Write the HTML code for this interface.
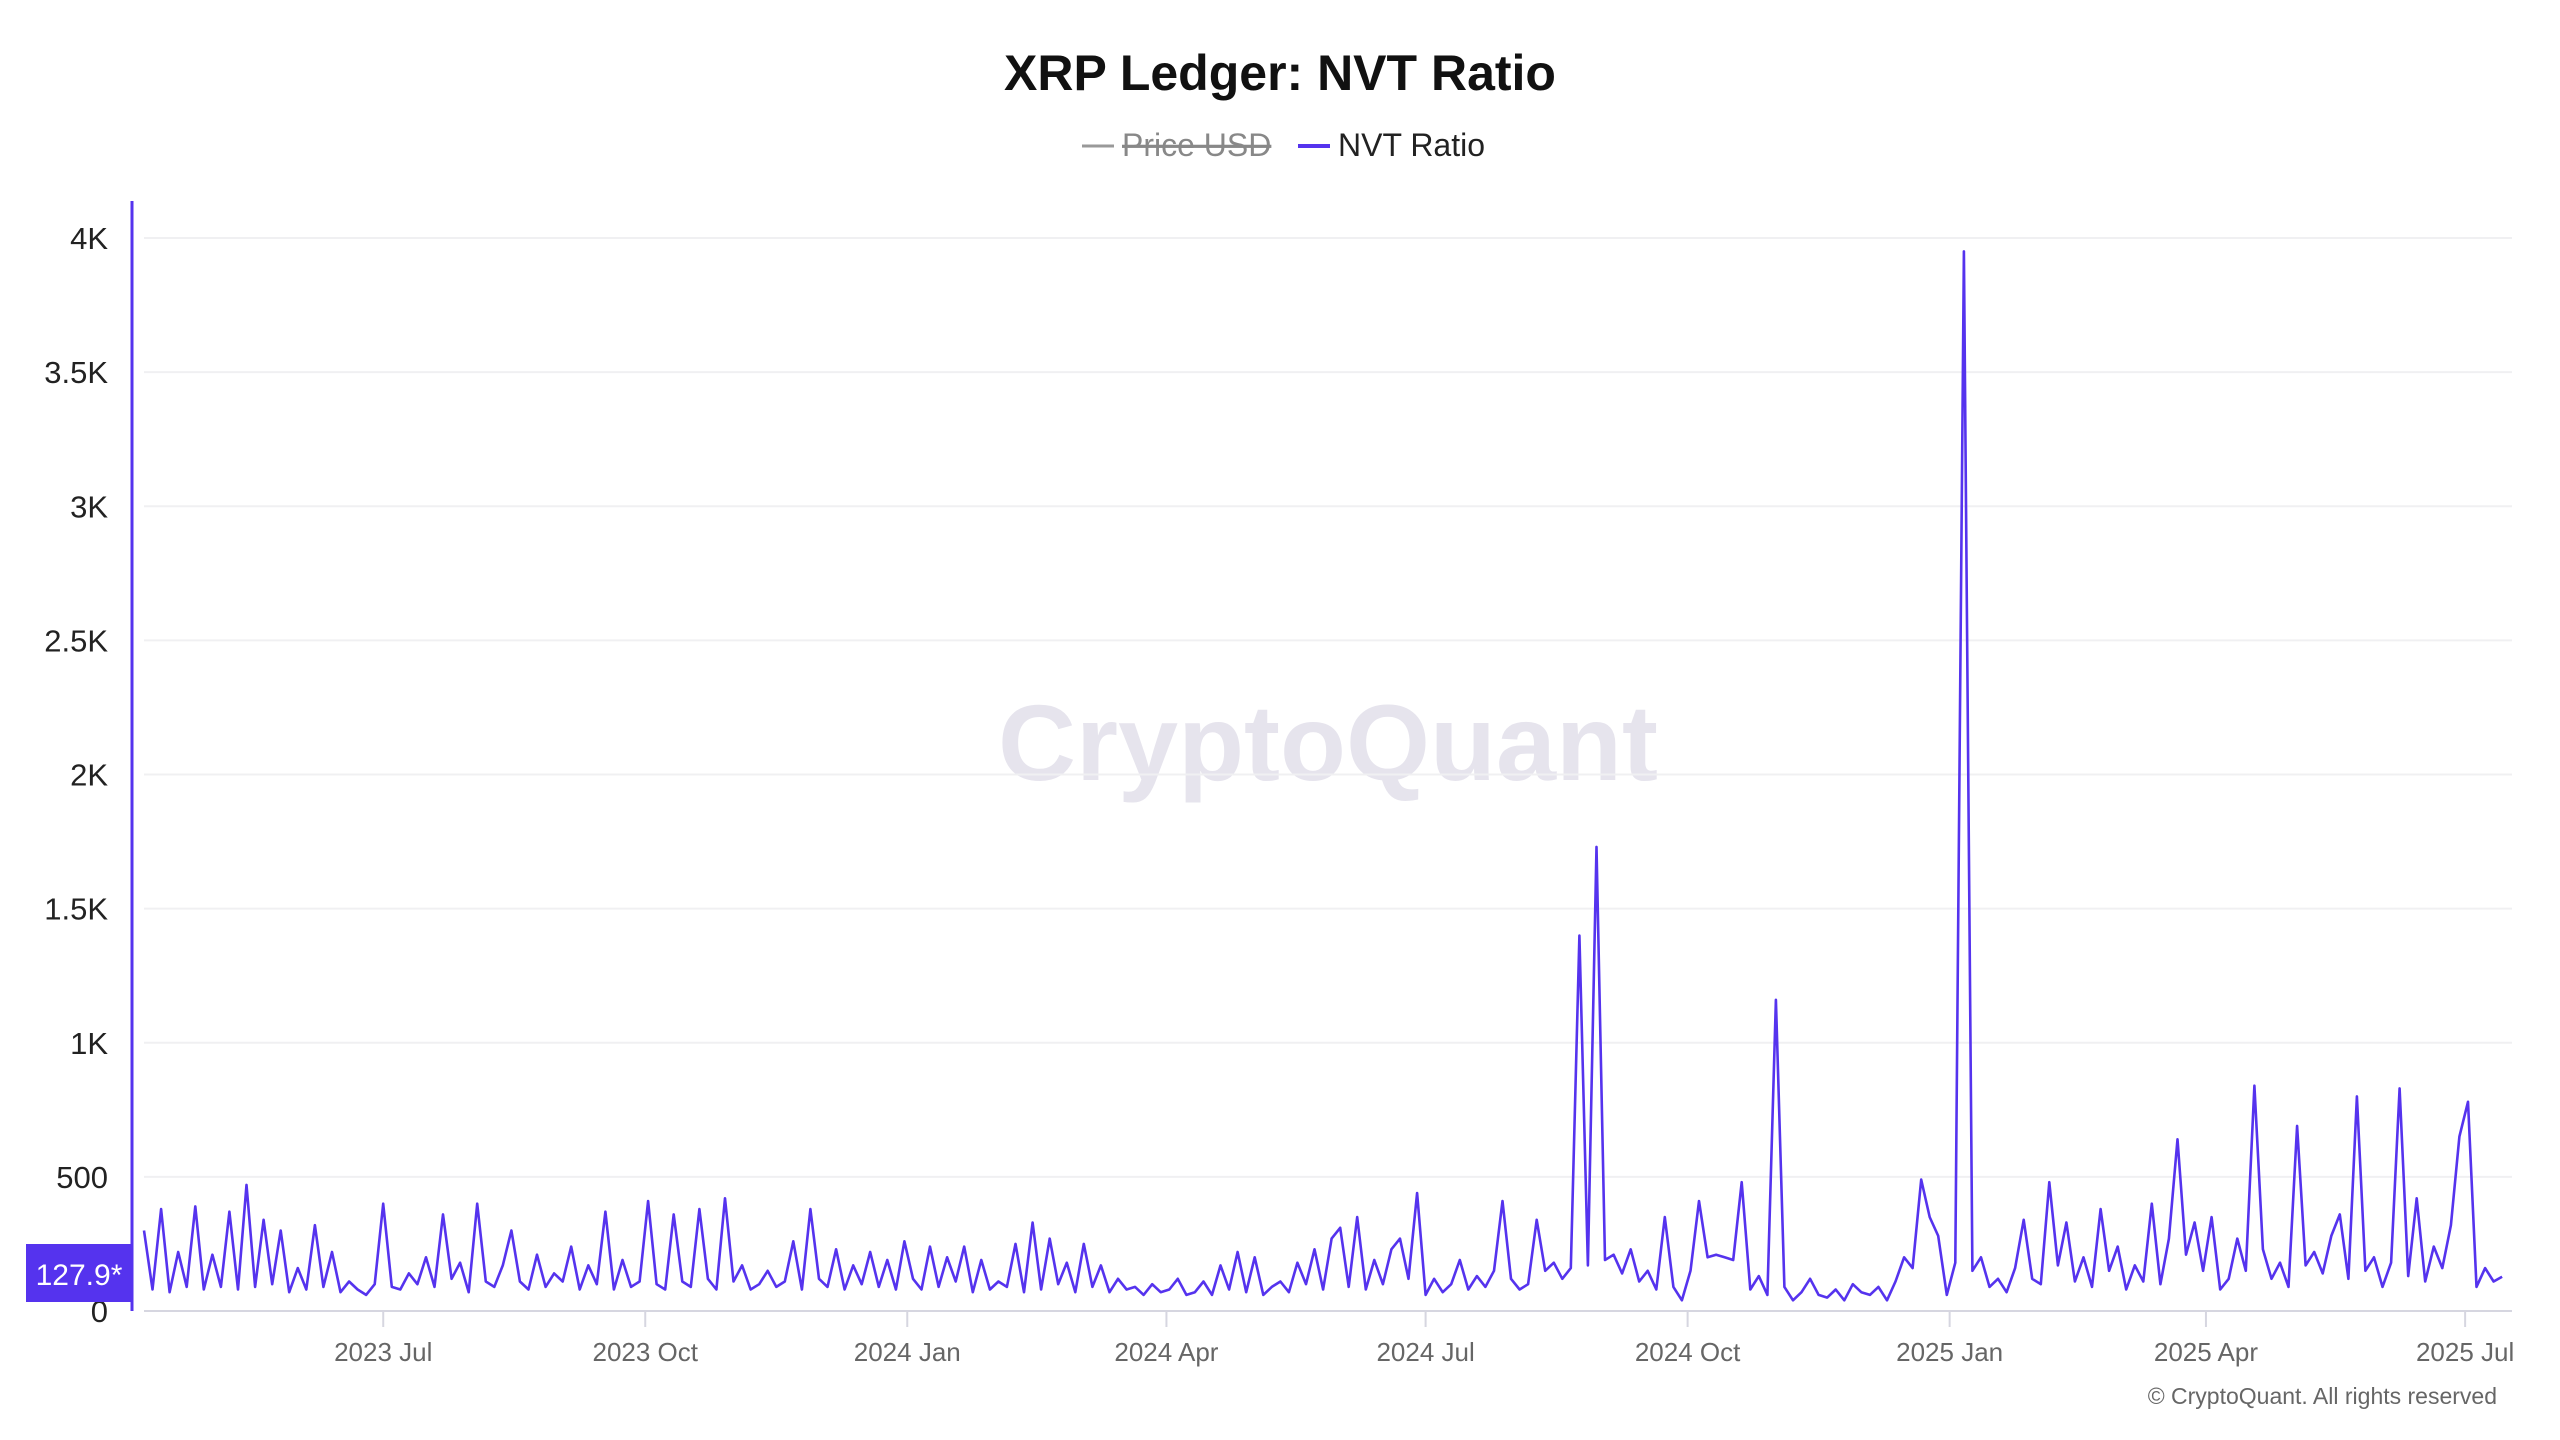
<!DOCTYPE html>
<html><head><meta charset="utf-8"><style>
html,body{margin:0;padding:0;background:#fff;}
svg{display:block;font-family:"Liberation Sans",sans-serif;}
</style></head><body>
<svg id="chart" width="2560" height="1440" viewBox="0 0 2560 1440">
<text x="1280" y="90" text-anchor="middle" font-size="50" font-weight="bold" fill="#111">XRP Ledger: NVT Ratio</text>
<g>
 <g>
  <line x1="1082" y1="146" x2="1114" y2="146" stroke="#999" stroke-width="3"/>
  <text x="1122" y="156" font-size="32" fill="#888" text-decoration="line-through">Price USD</text>
 </g>
 <g>
  <line x1="1298" y1="146" x2="1330" y2="146" stroke="#5533ee" stroke-width="4"/>
  <text x="1338" y="156" font-size="32" fill="#222">NVT Ratio</text>
 </g>
</g>
<text x="1328" y="780" text-anchor="middle" font-size="108" font-weight="bold" fill="#e6e4ed">CryptoQuant</text>
<g id="grid"></g>
<g id="yticks"></g>
<g id="xticks"></g>
<path id="series" fill="none" stroke="#5533ee" stroke-width="2.6" stroke-linejoin="round"/>
<line x1="132" y1="201" x2="132" y2="1311" stroke="#5533ee" stroke-width="3"/>
<g>
 <rect x="26" y="1244" width="106" height="58" fill="#5533ee"/>
 <text x="79" y="1285" text-anchor="middle" font-size="30" fill="#fff">127.9*</text>
</g>
<text x="2497" y="1404" text-anchor="end" font-size="23" fill="#666">© CryptoQuant. All rights reserved</text>
</svg>
<script>
const yTicks=[0,500,1000,1500,2000,2500,3000,3500,4000];
const yTickLabels=["0","500","1K","1.5K","2K","2.5K","3K","3.5K","4K"];
const xTickLabels=["2023 Jul","2023 Oct","2024 Jan","2024 Apr","2024 Jul","2024 Oct","2025 Jan","2025 Apr","2025 Jul"];
const xTickDays=[84,176,268,359,450,542,634,724,815];
const stepDays=3;
const q1=[300,80,380,70,220,90,390,80,210,90,370,80,470,90,340,100,300,70,160,80,320,90,220,70,110,80,60,100];
const q2=[400,90,80,140,100,200,90,360,120,180,70,400,110,90,170,300,110,80,210,90,140,110,240,80,170,100,370,80,190,90,110];
const q3=[410,100,80,360,110,90,380,120,80,420,110,170,80,100,150,90,110,260,80,380,120,90,230,80,170,100,220,90,190,80];
const q4=[260,120,80,240,90,200,110,240,70,190,80,110,90,250,70,330,80,270,100,180,70,250,90,170,70,120,80,90,60,100,70];
const q5=[80,120,60,70,110,60,170,80,220,70,200,60,90,110,70,180,100,230,80,270,310,90,350,80,190,100,230,270,120,440];
const q6=[60,120,70,100,190,80,130,90,150,410,120,80,100,340,150,180,120,160,1400,170,1730,190,210,140,230,110,150,80,350,90,40];
const q7=[150,410,200,210,200,190,480,80,130,60,1160,90,40,70,120,60,50,80,40,100,70,60,90,40,110,200,160,490,350,280];
const q8=[60,180,3950,150,200,90,120,70,160,340,120,100,480,170,330,110,200,90,380,150,240,80,170,110,400,100,270,640,210,330];
const q9=[150,350,80,120,270,150,840,230,120,180,90,690,170,220,140,280,360,120,800,150,200,90,180,830,130,420,110,240,160,320,650];
const tail=[780,90,160,110,128];
const values=[].concat(q1,q2,q3,q4,q5,q6,q7,q8,q9,tail);

const X0=144,PXDAY=2.848,Y0=1311,PXVAL=1073/4000,XEND=2512;
const xs=d=>X0+d*PXDAY, ys=v=>Y0-v*PXVAL;
const NS="http://www.w3.org/2000/svg";
const grid=document.getElementById('grid'),yt=document.getElementById('yticks'),xt=document.getElementById('xticks');
yTicks.forEach((v,i)=>{
 if(v>0){const l=document.createElementNS(NS,'line');
 l.setAttribute('x1',X0);l.setAttribute('x2',XEND);l.setAttribute('y1',ys(v));l.setAttribute('y2',ys(v));
 l.setAttribute('stroke','#f0f0f2');l.setAttribute('stroke-width','2');
 
 
 grid.appendChild(l);}
 const t=document.createElementNS(NS,'text');
 t.setAttribute('x',108);t.setAttribute('y',ys(v)+11);t.setAttribute('text-anchor','end');
 t.setAttribute('font-size','31');t.setAttribute('fill','#222');t.textContent=yTickLabels[i];
 
 
 yt.appendChild(t);
});
const ax=document.createElementNS(NS,'line');
ax.setAttribute('x1',X0);ax.setAttribute('x2',XEND);ax.setAttribute('y1',Y0);ax.setAttribute('y2',Y0);
ax.setAttribute('stroke','#d6d6e0');ax.setAttribute('stroke-width','2');


xt.appendChild(ax);
xTickDays.forEach((d,i)=>{
 const l=document.createElementNS(NS,'line');
 l.setAttribute('x1',xs(d));l.setAttribute('x2',xs(d));l.setAttribute('y1',Y0);l.setAttribute('y2',Y0+16);
 l.setAttribute('stroke','#d6d6e0');l.setAttribute('stroke-width','2');
 
 
 xt.appendChild(l);
 const t=document.createElementNS(NS,'text');
 t.setAttribute('x',xs(d));t.setAttribute('y',1361);t.setAttribute('text-anchor','middle');
 t.setAttribute('font-size','26');t.setAttribute('fill','#666');t.textContent=xTickLabels[i];
 
 
 xt.appendChild(t);
});
let d='';
values.forEach((v,i)=>{d+=(i?'L':'M')+xs(i*stepDays).toFixed(1)+' '+ys(v).toFixed(1);});
document.getElementById('series').setAttribute('d',d);
</script>
</body></html>
